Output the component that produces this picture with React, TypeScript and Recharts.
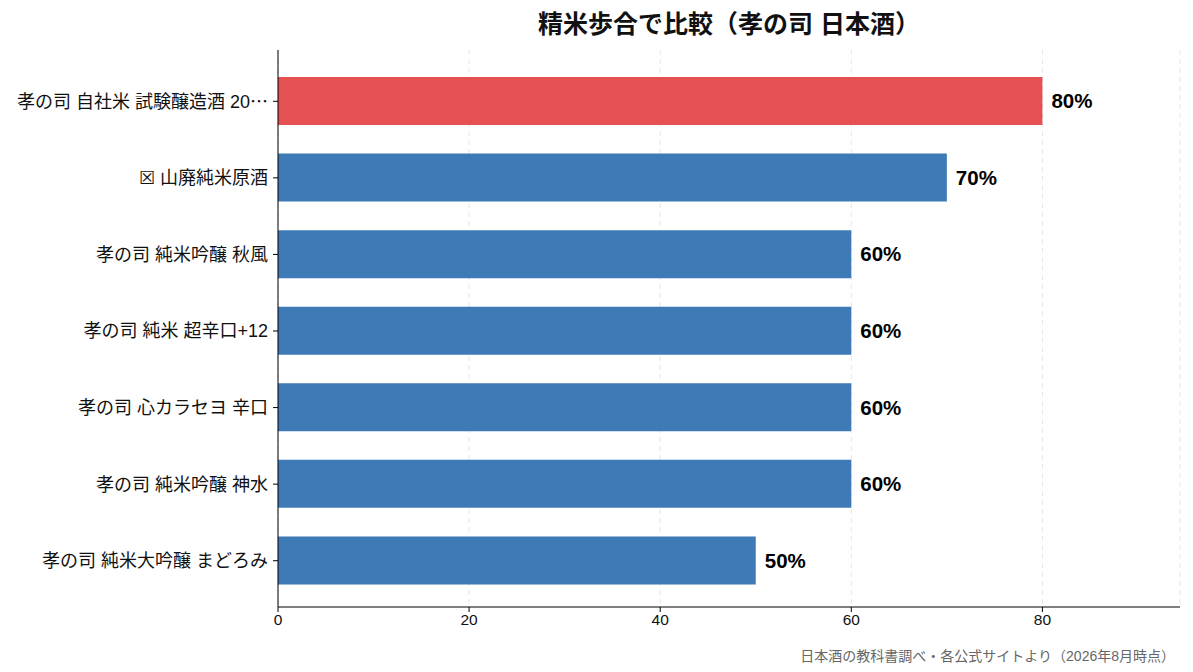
import { Bar, BarChart, CartesianGrid, Cell, LabelList, XAxis, YAxis } from "recharts";

const labels = [
  "孝の司 自社米 試験醸造酒 20…",
  "☒ 山廃純米原酒",
  "孝の司 純米吟醸 秋風",
  "孝の司 純米 超辛口+12",
  "孝の司 心カラセヨ 辛口",
  "孝の司 純米吟醸 神水",
  "孝の司 純米大吟醸 まどろみ",
];
const polishRatio = [80, 70, 60, 60, 60, 60, 50];
const highlighted = [true, false, false, false, false, false, false];
const xTicks = [0, 20, 40, 60, 80];

// Latin glyphs from Liberation Sans (wider, closer to the reference), CJK from Noto
const FONT = '"Liberation Sans", "Noto Sans CJK JP", sans-serif';
const CJK = '"Noto Sans CJK JP", sans-serif';
const RED = "#E55153";
const BLUE = "#3E7AB6";

const data = labels.map((name, i) => ({ name, value: polishRatio[i], hi: highlighted[i] }));

// the truncation ellipsis sits mid-height, as in a CJK font
function NameTick({ x, y, payload }: { x?: number; y?: number; payload?: { value: string } }) {
  const text = payload?.value ?? "";
  const parts = text.split("…");
  return (
    <text x={x} y={y} dy="0.36em" textAnchor="end" fontSize={18} fill="#111" fontFamily={FONT}>
      {parts.map((p, i) => (
        <tspan key={i}>
          {p}
          {i < parts.length - 1 && <tspan fontFamily={CJK}>…</tspan>}
        </tspan>
      ))}
    </text>
  );
}

export default function App() {
  return (
    <div
      style={{
        position: "fixed",
        left: 0,
        top: 0,
        width: 1193,
        height: 672,
        background: "#fff",
        fontFamily: FONT,
      }}
    >
      <div
        style={{
          position: "absolute",
          left: 278,
          width: 902,
          top: 4,
          textAlign: "center",
          fontSize: 25,
          fontWeight: 700,
          color: "#111",
        }}
      >
        精米歩合で比較（孝の司 日本酒）
      </div>
      <BarChart
        width={1193}
        height={672}
        data={data}
        layout="vertical"
        margin={{ top: 50, right: 13, bottom: 35, left: 0 }}
        barCategoryGap={0}
      >
        <CartesianGrid horizontal={false} stroke="#e6e6e6" strokeDasharray="5 4" />
        <XAxis
          type="number"
          domain={[0, 94.4]}
          ticks={xTicks}
          axisLine={{ stroke: "#000", strokeWidth: 1 }}
          tickLine={{ stroke: "#000" }}
          tickSize={5}
          height={30}
          tick={{ fontSize: 15.5, fill: "#111", fontFamily: FONT }}
        />
        <YAxis
          type="category"
          dataKey="name"
          width={278}
          axisLine={{ stroke: "#000", strokeWidth: 1 }}
          tickLine={{ stroke: "#000" }}
          tickSize={5}
          tickMargin={5}
          padding={{ top: 13, bottom: 8 }}
          tick={<NameTick />}
        />
        <Bar dataKey="value" barSize={48} isAnimationActive={false}>
          {data.map((d) => (
            <Cell key={d.name} fill={d.hi ? RED : BLUE} />
          ))}
          <LabelList
            dataKey="value"
            position="right"
            offset={9}
            formatter={(v: number) => `${v}%`}
            style={{ fontSize: 20.5, fontWeight: 700, fill: "#000", fontFamily: FONT }}
          />
        </Bar>
      </BarChart>
      <div
        style={{
          position: "absolute",
          right: 18,
          top: 645,
          fontSize: 14,
          color: "#666",
        }}
      >
        日本酒の教科書調べ・各公式サイトより（2026年8月時点）
      </div>
    </div>
  );
}
